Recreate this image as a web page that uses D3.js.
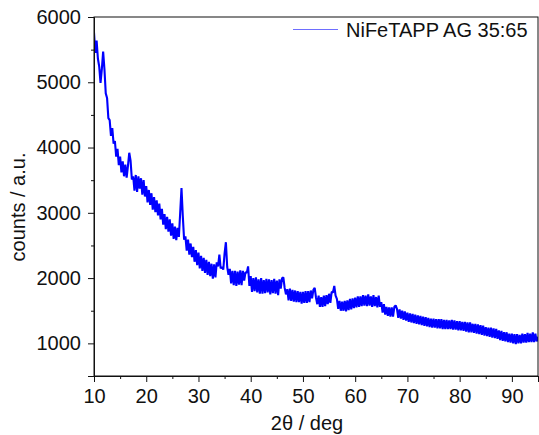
<!DOCTYPE html>
<html>
<head>
<meta charset="utf-8">
<script src="https://cdn.jsdelivr.net/npm/d3@7"></script>
<style>
  body { margin: 0; background: #fff; }
  svg text { font-family: 'Liberation Sans', Arial, sans-serif; fill: #111; }
</style>
</head>
<body>
<script>
const w = 539;
const h = 435;

// scan grid: 2theta from 10 to 95 deg, 0.25 deg step
const angleStart = 10;
const angleStep = 0.25;

// counts, 4 points per degree
const counts = [
  5760, 5450, 5640, 5360, // 10
  5240, 4990, 5200, 5470, // 11
  5200, 4830, 4760, 4450, // 12
  4420, 4180, 4300, 4060, // 13
  4100, 3860, 3980, 3730, // 14
  3860, 3620, 3790, 3560, // 15
  3740, 3540, 3720, 3920, // 16
  3800, 3510, 3560, 3340, // 17
  3580, 3320, 3560, 3370, // 18
  3530, 3280, 3500, 3250, // 19
  3410, 3160, 3350, 3120, // 20
  3300, 3050, 3240, 3010, // 21
  3190, 2960, 3140, 2900, // 22
  3060, 2820, 2980, 2750, // 23
  2940, 2710, 2900, 2650, // 24
  2840, 2600, 2790, 2580, // 25
  2770, 2630, 3000, 3380, // 26
  2950, 2590, 2640, 2420, // 27
  2590, 2360, 2530, 2320, // 28
  2480, 2250, 2430, 2200, // 29
  2390, 2150, 2340, 2110, // 30
  2310, 2080, 2280, 2050, // 31
  2250, 2030, 2220, 1990, // 32
  2210, 2010, 2240, 2180, // 33
  2360, 2150, 2170, 2130, // 34
  2380, 2550, 2170, 2050, // 35
  2140, 1920, 2110, 1890, // 36
  2110, 1880, 2100, 1900, // 37
  2120, 1890, 2110, 1960, // 38
  2090, 2080, 2180, 1880, // 39
  2030, 1790, 2000, 1800, // 40
  2010, 1780, 1980, 1760, // 41
  2000, 1760, 1970, 1770, // 42
  1990, 1780, 1980, 1750, // 43
  1970, 1770, 1990, 1760, // 44
  1960, 1740, 1980, 1840, // 45
  2000, 2010, 1850, 1750, // 46
  1830, 1660, 1840, 1650, // 47
  1820, 1640, 1810, 1630, // 48
  1800, 1630, 1790, 1610, // 49
  1790, 1620, 1800, 1620, // 50
  1800, 1630, 1810, 1690, // 51
  1820, 1850, 1700, 1600, // 52
  1730, 1560, 1710, 1560, // 53
  1730, 1570, 1740, 1600, // 54
  1760, 1620, 1790, 1780, // 55
  1880, 1730, 1680, 1530, // 56
  1650, 1500, 1640, 1500, // 57
  1650, 1490, 1660, 1510, // 58
  1680, 1520, 1690, 1540, // 59
  1700, 1550, 1720, 1560, // 60
  1720, 1570, 1740, 1580, // 61
  1730, 1570, 1750, 1580, // 62
  1720, 1560, 1740, 1570, // 63
  1710, 1550, 1730, 1560, // 64
  1630, 1470, 1600, 1440, // 65
  1560, 1420, 1550, 1410, // 66
  1550, 1410, 1560, 1580, // 67
  1530, 1390, 1520, 1380, // 68
  1500, 1360, 1490, 1350, // 69
  1470, 1330, 1460, 1320, // 70
  1450, 1310, 1440, 1300, // 71
  1430, 1290, 1420, 1280, // 72
  1410, 1270, 1400, 1260, // 73
  1390, 1250, 1380, 1240, // 74
  1380, 1240, 1370, 1230, // 75
  1370, 1230, 1370, 1220, // 76
  1360, 1220, 1360, 1220, // 77
  1350, 1220, 1360, 1210, // 78
  1350, 1210, 1340, 1200, // 79
  1340, 1200, 1330, 1190, // 80
  1330, 1180, 1320, 1170, // 81
  1320, 1170, 1300, 1160, // 82
  1300, 1150, 1290, 1140, // 83
  1280, 1130, 1270, 1120, // 84
  1250, 1110, 1240, 1100, // 85
  1240, 1090, 1230, 1080, // 86
  1220, 1070, 1200, 1050, // 87
  1190, 1040, 1170, 1030, // 88
  1170, 1020, 1150, 1010, // 89
  1150, 1000, 1140, 990,  // 90
  1140, 1000, 1130, 1000, // 91
  1150, 1010, 1140, 1010, // 92
  1160, 1020, 1150, 1020, // 93
  1170, 1020, 1150, 1030, // 94
  1100                    // 95
];

const xTicks = [10, 20, 30, 40, 50, 60, 70, 80, 90];
const xMinorTicks = [15, 25, 35, 45, 55, 65, 75, 85, 95];
const yTicks = [1000, 2000, 3000, 4000, 5000, 6000];
const yMinorTicks = [500, 1500, 2500, 3500, 4500, 5500];
const seriesName = 'NiFeTAPP AG 35:65';

const data = counts.map((c, i) => ({ angle: angleStart + i * angleStep, count: c }));

const plotLeft = 94, plotRight = 538, plotTop = 17, plotBottom = 376;

const x = d3.scaleLinear().domain([10, 95]).range([plotLeft, plotRight]);
const y = d3.scaleLinear().domain([500, 6000]).range([plotBottom, plotTop]);

const svg = d3.select('body').append('svg').attr('width', w).attr('height', h);

svg.append('clipPath').attr('id', 'plot')
  .append('rect')
  .attr('x', plotLeft).attr('y', plotTop)
  .attr('width', plotRight - plotLeft).attr('height', plotBottom - plotTop);

svg.append('path')
  .datum(data)
  .attr('clip-path', 'url(#plot)')
  .attr('fill', 'none')
  .attr('stroke', '#0000ff')
  .attr('stroke-width', 2.1)
  .attr('stroke-linejoin', 'bevel')
  .attr('d', d3.line().x((d) => x(d.angle)).y((d) => y(d.count)));

// frame
svg.append('rect')
  .attr('x', plotLeft).attr('y', plotTop)
  .attr('width', plotRight - plotLeft).attr('height', plotBottom - plotTop)
  .attr('fill', 'none').attr('stroke', '#111').attr('stroke-width', 1);

svg.append('g')
  .attr('transform', `translate(0,${plotBottom})`)
  .call(d3.axisBottom(x).tickValues(xTicks).tickSize(6).tickPadding(7));
svg.append('g')
  .attr('transform', `translate(0,${plotBottom})`)
  .call(d3.axisBottom(x).tickValues(xMinorTicks).tickSize(3).tickFormat(''))
  .select('.domain').remove();

svg.append('g')
  .attr('transform', `translate(${plotLeft},0)`)
  .call(d3.axisLeft(y).tickValues(yTicks).tickSize(6).tickPadding(7).tickFormat(d3.format('d')));
svg.append('g')
  .attr('transform', `translate(${plotLeft},0)`)
  .call(d3.axisLeft(y).tickValues(yMinorTicks).tickSize(3).tickFormat(''))
  .select('.domain').remove();

svg.selectAll('.domain').attr('stroke', '#111');
svg.selectAll('.tick line').attr('stroke', '#111');
svg.selectAll('.tick text')
  .style('font-size', '20px')
  .style('font-family', "'Liberation Sans', Arial, sans-serif")
  .attr('fill', '#111');

svg.append('text')
  .attr('x', 307)
  .attr('y', 430)
  .attr('text-anchor', 'middle')
  .style('font-size', '20px')
  .text('2θ / deg');

svg.append('text')
  .attr('transform', 'translate(25,207) rotate(-90)')
  .attr('text-anchor', 'middle')
  .style('font-size', '20px')
  .text('counts / a.u.');

// legend
const legend = svg.append('g');
legend.append('line')
  .attr('x1', 293).attr('x2', 338)
  .attr('y1', 29.5).attr('y2', 29.5)
  .attr('stroke', '#6e6eff').attr('stroke-width', 1);
legend.append('text')
  .attr('x', 346)
  .attr('y', 37)
  .style('font-size', '20px')
  .text(seriesName);
</script>
</body>
</html>
